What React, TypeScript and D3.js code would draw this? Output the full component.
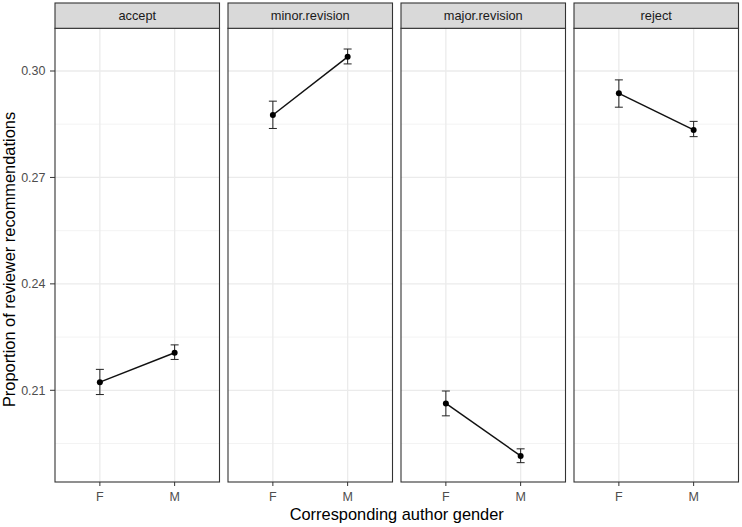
import React from "react";
import * as d3 from "d3";

const facets = ["accept", "minor.revision", "major.revision", "reject"];
const genders = ["F", "M"];
// mean, lower, upper per facet (F, M)
const meanF = [0.2123, 0.2876, 0.2063, 0.2937];
const lowF = [0.2088, 0.2838, 0.2028, 0.2898];
const highF = [0.2159, 0.2915, 0.2098, 0.2975];
const meanM = [0.2206, 0.304, 0.1915, 0.2834];
const lowM = [0.2187, 0.302, 0.1896, 0.2815];
const highM = [0.2228, 0.3062, 0.1935, 0.2858];
const yTicks = [0.21, 0.24, 0.27, 0.3];
const yMinor = [0.195, 0.225, 0.255, 0.285];

const W = 742, H = 527;
const panelTop = 28.3, panelBottom = 482;
const stripTop = 3;
const firstLeft = 55, panelW = 164.5, step = 173;

export default function App() {
  const y = d3.scaleLinear().domain([0.18415, 0.31204]).range([panelBottom, panelTop]);
  const font = "'Liberation Sans', Arial, sans-serif";
  const data = facets.map((f, i) => ({
    facet: f,
    pts: [
      { g: "F", m: meanF[i], lo: lowF[i], hi: highF[i] },
      { g: "M", m: meanM[i], lo: lowM[i], hi: highM[i] },
    ],
  }));
  const line = d3.line<{ x: number; y: number }>().x((d) => d.x).y((d) => d.y);
  return (
    <svg width={W} height={H} style={{ position: "absolute", left: 0, top: 0, background: "#fff" }} fontFamily={font}>
      <rect width={W} height={H} fill="#fff" />
      {data.map((d, i) => {
        const left = firstLeft + i * step;
        const x = d3.scalePoint<string>().domain(genders).range([left, left + panelW]).padding(0.6);
        return (
          <g key={d.facet}>
            {yMinor.map((t) => (
              <line key={"mi" + t} x1={left} x2={left + panelW} y1={y(t)} y2={y(t)} stroke="#f0f0f0" strokeWidth={0.8} />
            ))}
            {yTicks.map((t) => (
              <line key={"ma" + t} x1={left} x2={left + panelW} y1={y(t)} y2={y(t)} stroke="#ebebeb" strokeWidth={1.3} />
            ))}
            {genders.map((g) => (
              <line key={"v" + g} x1={x(g)} x2={x(g)} y1={panelTop} y2={panelBottom} stroke="#ebebeb" strokeWidth={1.3} />
            ))}
            {d.pts.map((p) => (
              <g key={p.g}>
                <line x1={x(p.g)} x2={x(p.g)} y1={y(p.lo)} y2={y(p.hi)} stroke="#222" strokeWidth={1} />
                <line x1={x(p.g)! - 4} x2={x(p.g)! + 4} y1={y(p.lo)} y2={y(p.lo)} stroke="#222" strokeWidth={1} />
                <line x1={x(p.g)! - 4} x2={x(p.g)! + 4} y1={y(p.hi)} y2={y(p.hi)} stroke="#222" strokeWidth={1} />
              </g>
            ))}
            <path d={line(d.pts.map((p) => ({ x: x(p.g)!, y: y(p.m) })))!} fill="none" stroke="#111" strokeWidth={1.5} />
            {d.pts.map((p) => (
              <circle key={"c" + p.g} cx={x(p.g)} cy={y(p.m)} r={3} fill="#000" />
            ))}
            <rect x={left} y={panelTop} width={panelW} height={panelBottom - panelTop} fill="none" stroke="#333" strokeWidth={1.1} />
            <rect x={left} y={stripTop} width={panelW} height={panelTop - stripTop} fill="#d9d9d9" stroke="#333" strokeWidth={1.1} />
            <text x={left + panelW / 2} y={(stripTop + panelTop) / 2} dy="0.35em" textAnchor="middle" fontSize={12.8} fill="#1a1a1a">
              {d.facet}
            </text>
            {genders.map((g) => (
              <g key={"t" + g}>
                <line x1={x(g)} x2={x(g)} y1={panelBottom} y2={panelBottom + 4} stroke="#333" strokeWidth={1} />
                <text x={x(g)} y={501} textAnchor="middle" fontSize={12.5} fill="#4d4d4d">
                  {g}
                </text>
              </g>
            ))}
          </g>
        );
      })}
      {yTicks.map((t) => (
        <g key={"yt" + t}>
          <line x1={firstLeft - 5} x2={firstLeft} y1={y(t)} y2={y(t)} stroke="#333" strokeWidth={1} />
          <text x={firstLeft - 9.5} y={y(t)} dy="0.35em" textAnchor="end" fontSize={12.5} fill="#4d4d4d">
            {d3.format(".2f")(t)}
          </text>
        </g>
      ))}
      <text x={firstLeft + (step * 3 + panelW) / 2} y={519.5} textAnchor="middle" fontSize={16.4} fill="#000">
        Corresponding author gender
      </text>
      <text transform={`translate(15, 259.5) rotate(-90)`} textAnchor="middle" fontSize={16.4} fill="#000">
        Proportion of reviewer recommendations
      </text>
    </svg>
  );
}
